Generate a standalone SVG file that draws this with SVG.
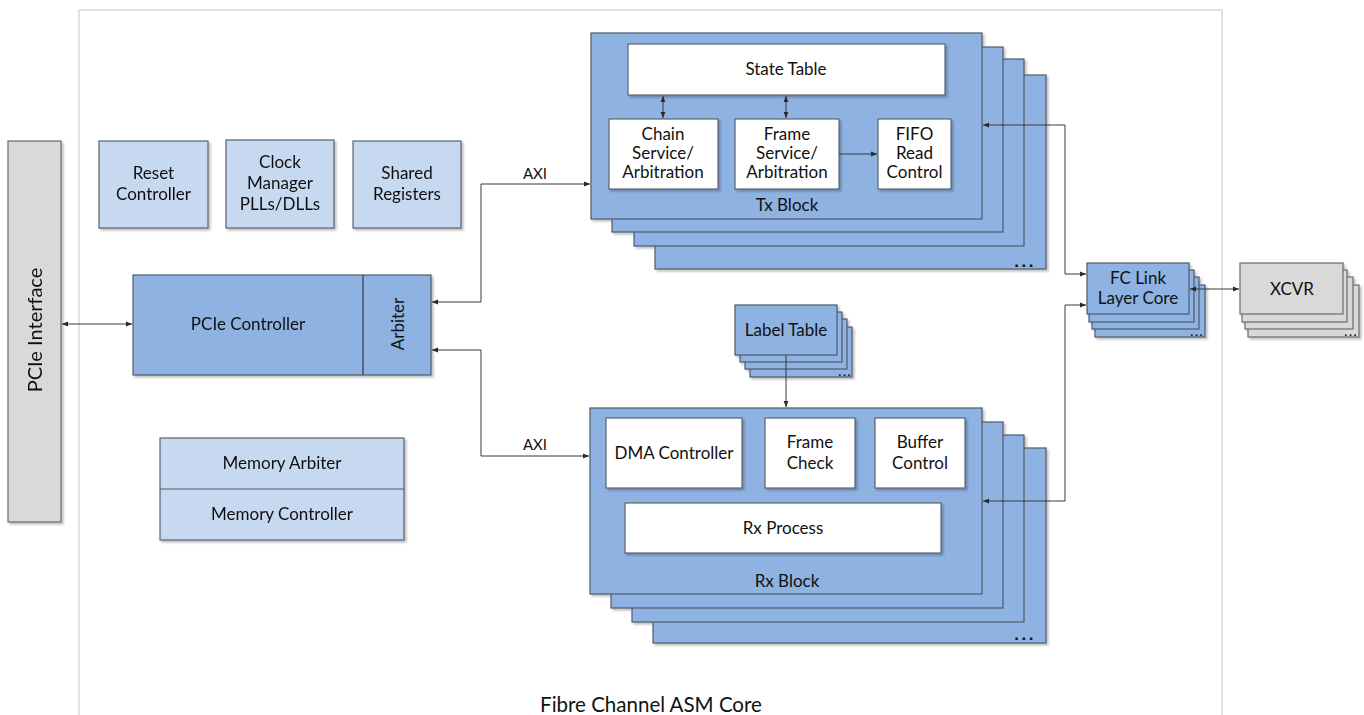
<svg xmlns="http://www.w3.org/2000/svg" width="1364" height="715" viewBox="0 0 1364 715">
  <style>
    .lbl { font-family: Lato, "Open Sans", "Liberation Sans", sans-serif; font-size: 17px; fill: #111111; text-anchor: middle; }
    .big { font-size: 20.5px; }
    .side { font-size: 20px; }
    .small { font-size: 15px; }
    .dots { font-family: "Liberation Sans", sans-serif; font-weight: bold; font-size: 17px; fill: #111111; text-anchor: end; letter-spacing: 2.5px; }
    .sdots { font-size: 11px; letter-spacing: 1.5px; }
    .blue { fill: #8eb2e2; stroke: #4d5a6a; stroke-width: 1.2; }
    .lblue { fill: #c6d9f1; stroke: #5a6270; stroke-width: 1.2; }
    .grey { fill: #d9d9d9; stroke: #6a6a6a; stroke-width: 1.2; }
    .white { fill: #ffffff; stroke: #5a6270; stroke-width: 1.2; }
    .wire { fill: none; stroke: #3a3a3a; stroke-width: 1; }
    .frame { fill: none; stroke: #e2e2e2; stroke-width: 2; }
  </style>
  <defs>
    <filter id="shadow" x="-10%" y="-10%" width="130%" height="130%">
      <feDropShadow dx="2" dy="2" stdDeviation="1.2" flood-color="#000" flood-opacity="0.25"/>
    </filter>
    <marker id="arrow" viewBox="0 0 10 10" refX="10" refY="5" markerWidth="6" markerHeight="6" markerUnits="userSpaceOnUse" orient="auto-start-reverse">
      <path d="M0,1 L10,5 L0,9 z" fill="#2a2a2a"/>
    </marker>
  </defs>

  <rect width="1364" height="715" fill="#ffffff"/>

  <!-- core boundary -->
  <g id="asm-core">
    <rect class="frame" x="79" y="10" width="1143" height="740"/>
    <text class="lbl big" x="651" y="712">Fibre Channel ASM Core</text>
  </g>

  <!-- PCIe interface -->
  <g id="pcie-interface" filter="url(#shadow)">
    <rect class="grey" x="8" y="141" width="53" height="381"/>
    <text class="lbl side" transform="translate(42,330) rotate(-90)">PCIe Interface</text>
  </g>

  <!-- housekeeping blocks -->
  <g id="reset-controller" filter="url(#shadow)">
    <rect class="lblue" x="99" y="141" width="109" height="87"/>
    <text class="lbl" x="153.5" y="179">Reset</text>
    <text class="lbl" x="153.5" y="200">Controller</text>
  </g>
  <g id="clock-manager" filter="url(#shadow)">
    <rect class="lblue" x="226" y="140" width="108" height="88"/>
    <text class="lbl" x="280" y="168">Clock</text>
    <text class="lbl" x="280" y="189">Manager</text>
    <text class="lbl" x="280" y="210">PLLs/DLLs</text>
  </g>
  <g id="shared-registers" filter="url(#shadow)">
    <rect class="lblue" x="353" y="141" width="108" height="87"/>
    <text class="lbl" x="407" y="179">Shared</text>
    <text class="lbl" x="407" y="200">Registers</text>
  </g>

  <!-- PCIe controller with arbiter -->
  <g id="pcie-controller" filter="url(#shadow)">
    <rect class="blue" x="133" y="275" width="298" height="100"/>
    <line x1="363" y1="275" x2="363" y2="375" stroke="#3a3a3a" stroke-width="1.2"/>
    <text class="lbl" x="248" y="330">PCIe Controller</text>
  </g>
  <g id="arbiter">
    <text class="lbl" transform="translate(404,324) rotate(-90)">Arbiter</text>
  </g>

  <!-- memory -->
  <g id="memory" filter="url(#shadow)">
    <rect class="lblue" x="160" y="438" width="244" height="102"/>
    <line x1="160" y1="489" x2="404" y2="489" stroke="#4d5a6a" stroke-width="1.2"/>
    <text class="lbl" x="282" y="469">Memory Arbiter</text>
    <text class="lbl" x="282" y="520">Memory Controller</text>
  </g>

  <!-- Tx block stack -->
  <g id="tx-block">
    <g filter="url(#shadow)">
      <rect class="blue" x="655" y="75" width="391" height="194"/>
      <rect class="blue" x="634" y="59" width="390" height="187"/>
      <rect class="blue" x="612" y="47" width="391" height="185"/>
      <rect class="blue" x="591" y="33" width="391" height="186"/>
    </g>
    <text class="dots" x="1036" y="267">...</text>
    <text class="lbl" x="787" y="211">Tx Block</text>
    <g filter="url(#shadow)">
      <rect class="white" x="628" y="44" width="317" height="51"/>
      <rect class="white" x="609" y="119" width="109" height="70"/>
      <rect class="white" x="735" y="119" width="104" height="70"/>
      <rect class="white" x="878" y="119" width="73" height="70"/>
    </g>
    <text class="lbl" x="786" y="75">State Table</text>
    <text class="lbl" x="663" y="140">Chain</text>
    <text class="lbl" x="663" y="159">Service/</text>
    <text class="lbl" x="663" y="178">Arbitration</text>
    <text class="lbl" x="787" y="140">Frame</text>
    <text class="lbl" x="787" y="159">Service/</text>
    <text class="lbl" x="787" y="178">Arbitration</text>
    <text class="lbl" x="914.5" y="140">FIFO</text>
    <text class="lbl" x="914.5" y="159">Read</text>
    <text class="lbl" x="914.5" y="178">Control</text>
  </g>

  <!-- Label table stack -->
  <g id="label-table">
    <g filter="url(#shadow)">
      <rect class="blue" x="750" y="327" width="102" height="50"/>
      <rect class="blue" x="745" y="319" width="102" height="50"/>
      <rect class="blue" x="740" y="312" width="102" height="50"/>
      <rect class="blue" x="735" y="305" width="102" height="50"/>
    </g>
    <text class="lbl" x="786" y="336">Label Table</text>
    <text class="dots sdots" x="852" y="376">...</text>
  </g>

  <!-- Rx block stack -->
  <g id="rx-block">
    <g filter="url(#shadow)">
      <rect class="blue" x="653" y="448" width="393" height="195"/>
      <rect class="blue" x="632" y="435" width="392" height="187"/>
      <rect class="blue" x="611" y="422" width="392" height="186"/>
      <rect class="blue" x="590" y="408" width="392" height="186"/>
    </g>
    <text class="dots" x="1036" y="640">...</text>
    <text class="lbl" x="787" y="587">Rx Block</text>
    <g filter="url(#shadow)">
      <rect class="white" x="606" y="418" width="136" height="70"/>
      <rect class="white" x="765" y="418" width="90" height="70"/>
      <rect class="white" x="875" y="418" width="90" height="70"/>
      <rect class="white" x="625" y="503" width="316" height="50"/>
    </g>
    <text class="lbl" x="674" y="459">DMA Controller</text>
    <text class="lbl" x="810" y="448">Frame</text>
    <text class="lbl" x="810" y="469">Check</text>
    <text class="lbl" x="920" y="448">Buffer</text>
    <text class="lbl" x="920" y="469">Control</text>
    <text class="lbl" x="783" y="534">Rx Process</text>
  </g>

  <!-- FC link layer core stack -->
  <g id="fc-link">
    <g filter="url(#shadow)">
      <rect class="blue" x="1095" y="285" width="110" height="52"/>
      <rect class="blue" x="1092" y="277" width="107" height="52"/>
      <rect class="blue" x="1089" y="270" width="105" height="52"/>
      <rect class="blue" x="1087" y="263" width="102" height="51"/>
    </g>
    <text class="lbl" x="1138" y="284">FC Link</text>
    <text class="lbl" x="1138" y="304">Layer Core</text>
    <text class="dots sdots" x="1204" y="336">...</text>
  </g>

  <!-- transceivers -->
  <g id="xcvr">
    <g filter="url(#shadow)">
      <rect class="grey" x="1248" y="285" width="111" height="52"/>
      <rect class="grey" x="1245" y="277" width="108" height="52"/>
      <rect class="grey" x="1242" y="270" width="105" height="52"/>
      <rect class="grey" x="1240" y="263" width="103" height="51"/>
    </g>
    <text class="lbl" x="1292" y="295">XCVR</text>
    <text class="dots sdots" x="1358" y="336">...</text>
  </g>

  <!-- connectors -->
  <g id="connectors" class="wire">
    <line x1="62" y1="324" x2="132" y2="324" marker-start="url(#arrow)" marker-end="url(#arrow)"/>
    <polyline points="432,302 481,302 481,184 590,184" marker-start="url(#arrow)" marker-end="url(#arrow)"/>
    <polyline points="432,350 481,350 481,456 589,456" marker-start="url(#arrow)" marker-end="url(#arrow)"/>
    <line x1="663" y1="96" x2="663" y2="118" marker-start="url(#arrow)" marker-end="url(#arrow)"/>
    <line x1="786" y1="96" x2="786" y2="118" marker-start="url(#arrow)" marker-end="url(#arrow)"/>
    <line x1="839" y1="154" x2="877" y2="154" marker-end="url(#arrow)"/>
    <line x1="786" y1="355" x2="786" y2="407" marker-end="url(#arrow)"/>
    <polyline points="983,125 1065,125 1065,274 1086,274" marker-start="url(#arrow)" marker-end="url(#arrow)"/>
    <polyline points="1086,305 1065,305 1065,501 983,501" marker-start="url(#arrow)" marker-end="url(#arrow)"/>
    <line x1="1190" y1="289" x2="1239" y2="289" marker-start="url(#arrow)" marker-end="url(#arrow)"/>
  </g>
  <g id="connector-labels">
    <text class="lbl small" x="535" y="179">AXI</text>
    <text class="lbl small" x="535" y="450">AXI</text>
  </g>
</svg>
